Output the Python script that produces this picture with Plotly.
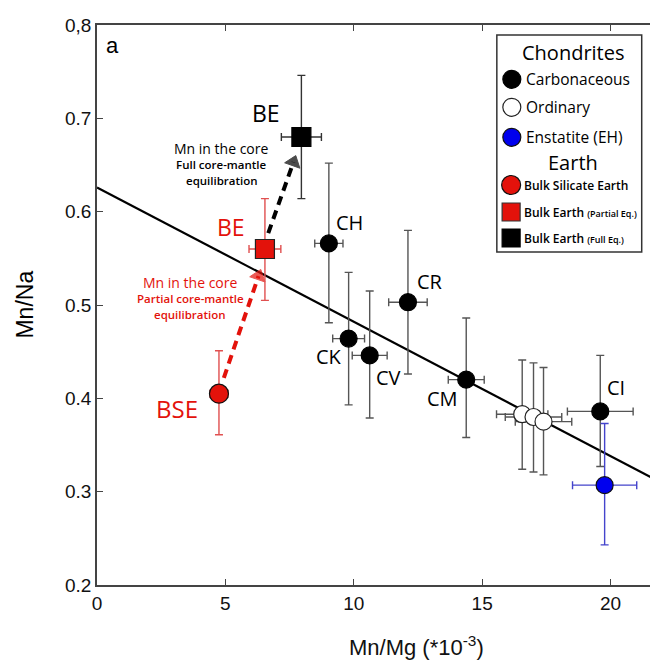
import plotly.graph_objects as go

# ---------------- data ----------------
carb_names = ["CH", "CK", "CV", "CR", "CM", "CI"]
carb_x = [9.03, 9.80, 10.62, 12.11, 14.38, 19.60]
carb_y = [0.566, 0.464, 0.446, 0.503, 0.420, 0.386]
carb_xerr = [0.55, 0.62, 0.68, 0.75, 0.70, 1.28]
carb_yerr_plus = [0.086, 0.071, 0.069, 0.077, 0.066, 0.060]
carb_yerr_minus = [0.085, 0.071, 0.067, 0.077, 0.062, 0.059]

ord_x = [16.56, 17.00, 17.39]
ord_y = [0.383, 0.380, 0.375]
ord_xerr = [1.0, 1.1, 1.1]
ord_yerr_plus = [0.058, 0.058, 0.058]
ord_yerr_minus = [0.059, 0.059, 0.057]

eh_x = [19.77]
eh_y = [0.307]
eh_xerr = [1.25]
eh_yerr_plus = [0.066]
eh_yerr_minus = [0.064]

bse_x = [4.75]
bse_y = [0.405]
bse_xerr = [0.35]
bse_yerr_plus = [0.046]
bse_yerr_minus = [0.044]

bep_x = [6.54]
bep_y = [0.560]
bep_xerr = [0.62]
bep_yerr_plus = [0.054]
bep_yerr_minus = [0.055]

bef_x = [7.96]
bef_y = [0.680]
bef_xerr = [0.78]
bef_yerr_plus = [0.066]
bef_yerr_minus = [0.066]

fit_x = [0, 25]
fit_y = [0.626, 0.266]

arrow_partial_x = [4.94, 6.29]
arrow_partial_y = [0.422, 0.531]
arrow_full_x = [6.67, 7.65]
arrow_full_y = [0.577, 0.653]

x_ticks = [0, 5, 10, 15, 20]
y_ticks = [0.2, 0.3, 0.4, 0.5, 0.6, 0.7, 0.8]
y_ticklabels = ["0.2", "0.3", "0.4", "0.5", "0.6", "0.7", "0,8"]

# ---------------- layout geometry ----------------
W, H = 650, 663
L, R, T, B = 96.5, 0, 25, 78
PW, PH = W - L - R, H - T - B
XMAX = PW / 25.7
RED = "#e3120b"
ANN_FONT = "Open Sans"
AX_FONT = "Liberation Sans"


def px(xp):
    return (xp - L) / PW


def py(yp):
    return (H - B - yp) / PH


fig = go.Figure()

# regression line
fig.add_trace(go.Scatter(x=fit_x, y=fit_y, mode="lines",
                         line=dict(color="black", width=2.2),
                         hoverinfo="skip", showlegend=False))

# arrows
for ax_, ay_, col in [(arrow_partial_x, arrow_partial_y, RED),
                      (arrow_full_x, arrow_full_y, "black")]:
    fig.add_trace(go.Scatter(
        x=ax_, y=ay_, mode="lines+markers",
        line=dict(color=col, width=4, dash="9px,6px"),
        marker=dict(symbol="triangle-up", size=[0, 14], color=col,
                    angleref="previous", line=dict(width=1, color=col)),
        hoverinfo="skip", showlegend=False))


def pts(x, y, xe, yp, ym, fill, edge, ecol, symbol="circle", size=17):
    fig.add_trace(go.Scatter(
        x=x, y=y, mode="markers",
        marker=dict(symbol=symbol, size=size, color=fill,
                    line=dict(color=edge, width=1.2)),
        error_x=dict(type="data", array=xe, color=ecol, thickness=1.4, width=4),
        error_y=dict(type="data", array=yp, arrayminus=ym, color=ecol,
                     thickness=1.4, width=4),
        showlegend=False, hoverinfo="x+y"))


pts(carb_x, carb_y, carb_xerr, carb_yerr_plus, carb_yerr_minus,
    "black", "black", "#555555")
pts(ord_x, ord_y, ord_xerr, ord_yerr_plus, ord_yerr_minus,
    "white", "#222222", "#555555")
pts(eh_x, eh_y, eh_xerr, eh_yerr_plus, eh_yerr_minus,
    "#0000ee", "#111111", "#4444cc")
pts(bse_x, bse_y, bse_xerr, bse_yerr_plus, bse_yerr_minus,
    RED, "#111111", "#e05050", size=19)
pts(bep_x, bep_y, bep_xerr, bep_yerr_plus, bep_yerr_minus,
    RED, "#222222", "#e05050", symbol="square", size=19)
pts(bef_x, bef_y, bef_xerr, bef_yerr_plus, bef_yerr_minus,
    "black", "black", "#333333", symbol="square", size=19)

# dummy trace for the top axis
fig.add_trace(go.Scatter(x=[0], y=[None], xaxis="x2", mode="markers",
                         showlegend=False, hoverinfo="skip"))

anns = []


def dtext(x, y, text, size, color="black", weight=None, family=ANN_FONT):
    f = dict(family=family, size=size, color=color)
    if weight:
        f["weight"] = weight
    anns.append(dict(x=x, y=y, xref="x", yref="y", text=text, showarrow=False,
                     font=f, xanchor="center", yanchor="middle"))


def ptext(xp, yp, text, size, color="black", anchor="center", weight=None,
          family=ANN_FONT, angle=0):
    f = dict(family=family, size=size, color=color)
    if weight:
        f["weight"] = weight
    anns.append(dict(x=px(xp), y=py(yp), xref="paper", yref="paper", text=text,
                     showarrow=False, font=f, xanchor=anchor, yanchor="middle",
                     textangle=angle))


def dpos(xp, yp):
    return (xp - L) / 25.7, 0.8 - (yp - T) / (PH / 0.6)


for lbl, (xp_, yp_) in zip(carb_names, [(349, 222.5), (329, 356.7), (388, 377.5),
                                         (430, 281.7), (442.5, 398.3), (616, 387.5)]):
    x_, y_ = dpos(xp_, yp_)
    dtext(x_, y_, lbl, 20)

x_, y_ = dpos(265.8, 113.3)
dtext(x_, y_, "BE", 23)
x_, y_ = dpos(230.8, 226.7)
dtext(x_, y_, "BE", 23, RED)
x_, y_ = dpos(176.7, 408.3)
dtext(x_, y_, "BSE", 24, RED)

x_, y_ = dpos(221, 148)
dtext(x_, y_, "Mn in the core", 14)
x_, y_ = dpos(221.5, 164)
dtext(x_, y_, "Full core-mantle", 11.5, weight=600)
x_, y_ = dpos(221.5, 180)
dtext(x_, y_, "equilibration", 11.5, weight=600)

x_, y_ = dpos(190, 282.7)
dtext(x_, y_, "Mn in the core", 14, RED)
x_, y_ = dpos(190, 298.5)
dtext(x_, y_, "Partial core-mantle", 11.5, RED, weight=600)
x_, y_ = dpos(190, 314)
dtext(x_, y_, "equilibration", 11.5, RED, weight=600)

# panel letter
ptext(112.5, 46, "a", 22, family=AX_FONT)

# axis titles
ptext(24, 305, "Mn/Na", 23, family=AX_FONT, angle=-90)
anns.append(dict(x=px(416.5), y=py(646), xref="paper", yref="paper",
                 text="Mn/Mg (*10<sup>-3</sup>)", showarrow=False,
                 font=dict(family=AX_FONT, size=22, color="#111"),
                 xanchor="center", yanchor="middle"))

# legend box
shapes = [dict(type="rect", xref="paper", yref="paper",
               x0=px(496.7), x1=px(641.7), y0=py(252), y1=py(35),
               line=dict(color="#333", width=1.5), fillcolor="white", layer="above")]


def lmark(xp, yp, kind, fill, edge, d=18):
    shapes.append(dict(type=kind, xref="paper", yref="paper",
                       xsizemode="pixel", ysizemode="pixel",
                       xanchor=px(xp), yanchor=py(yp),
                       x0=-d / 2, x1=d / 2, y0=-d / 2, y1=d / 2,
                       fillcolor=fill, line=dict(color=edge, width=1.2),
                       layer="above"))


ptext(573.3, 52, "Chondrites", 20)
lmark(511.7, 79.3, "circle", "black", "black")
ptext(524, 79.3, "Carbonaceous", 15.5, anchor="left")
lmark(511.7, 107.3, "circle", "white", "#222")
ptext(524, 107.3, "Ordinary", 15.5, anchor="left")
lmark(511.7, 137.3, "circle", "#0000ee", "#111")
ptext(524, 137.3, "Enstatite (EH)", 15.5, anchor="left")
ptext(573.3, 162, "Earth", 20)
lmark(511, 185, "circle", RED, "#111", d=19)
ptext(521.5, 185, "Bulk Silicate Earth", 12, anchor="left", weight=600)
lmark(511, 212, "rect", RED, "#333", d=18)
ptext(521.5, 212, "Bulk Earth <span style='font-size:9px'>(Partial Eq.)</span>",
      12, anchor="left", weight=600)
lmark(511, 238, "rect", "black", "black", d=18)
ptext(521.5, 238, "Bulk Earth <span style='font-size:9px'>(Full Eq.)</span>",
      12, anchor="left", weight=600)

axis_common = dict(showgrid=False, zeroline=False, showline=True,
                   linecolor="#444", linewidth=1.5, ticks="inside",
                   tickcolor="#444", ticklen=6, tickwidth=1.2, automargin=False)

fig.update_layout(
    width=W, height=H,
    margin=dict(l=L, r=R, t=T, b=B, autoexpand=False),
    paper_bgcolor="white", plot_bgcolor="white",
    showlegend=False,
    xaxis=dict(range=[0, XMAX], tickvals=x_ticks, ticktext=[str(v) for v in x_ticks],
               tickfont=dict(family=AX_FONT, size=19, color="#111"),
               **axis_common),
    xaxis2=dict(range=[0, XMAX], overlaying="x", side="top", tickvals=x_ticks,
                showticklabels=False, **axis_common),
    yaxis=dict(range=[0.2, 0.8], tickvals=y_ticks, ticktext=y_ticklabels,
               tickfont=dict(family=AX_FONT, size=19, color="#111"),
               ticklabelstandoff=0,
               **axis_common),
    annotations=anns,
    shapes=shapes,
)

fig.write_html("out.html",
               config={"displayModeBar": False},
               post_script="document.body.style.margin='0';"
                           "document.body.style.overflow='hidden';")
